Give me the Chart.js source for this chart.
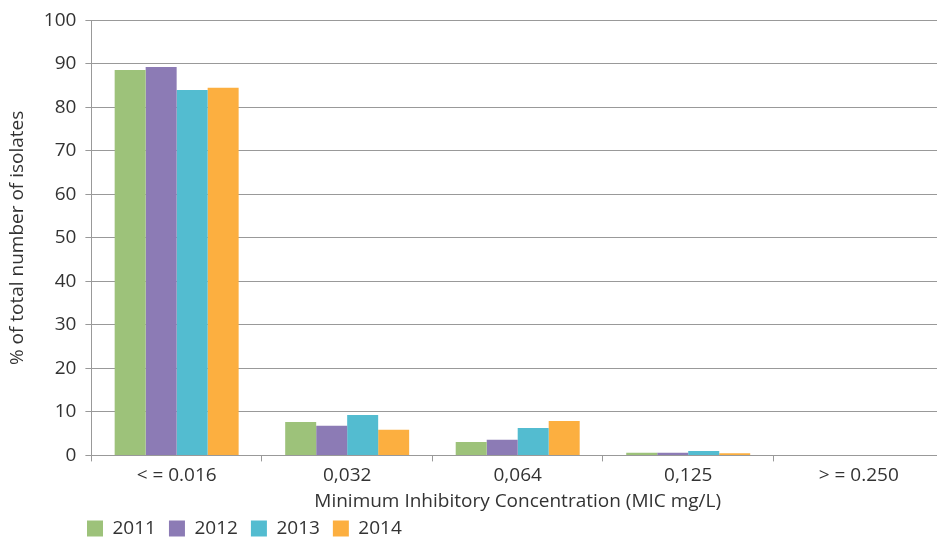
<!DOCTYPE html>
<html>
<head>
<meta charset="utf-8">
<script src="https://cdn.jsdelivr.net/npm/chart.js@4/dist/chart.umd.min.js"></script>
<style>
html,body{margin:0;padding:0;background:#fff;overflow:hidden;}
#wrap{position:relative;width:944px;height:538px;}
</style>
</head>
<body>
<div id="wrap"><canvas id="c"></canvas></div>
<script>
const categories = ["< = 0.016", "0,032", "0,064", "0,125", "> = 0.250"];
const seriesNames = ["2011", "2012", "2013", "2014"];
const values2011 = [88.6, 7.7, 3.1, 0.6, 0];
const values2012 = [89.3, 6.8, 3.6, 0.6, 0];
const values2013 = [84.0, 9.3, 6.3, 1.0, 0];
const values2014 = [84.5, 5.9, 7.9, 0.5, 0];
const colors = ["#9dc27a", "#8c7bb5", "#53bcd0", "#fcaf40"];

const FONT = "'Open Sans', sans-serif";
const TXT = "#333333";
const FS = 19;

const legendShift = {
  id: 'legendShift',
  afterLayout(chart) {
    const lg = chart.legend;
    if (lg) {
      const dx = 74 - lg.left; lg.left += dx; lg.right += dx;
      lg.top = 506; lg.bottom = 538; lg.height = lg.bottom - lg.top;
    }
  }
};

new Chart(document.getElementById('c'), {
  type: 'bar',
  data: {
    labels: categories,
    datasets: [values2011, values2012, values2013, values2014].map((v, i) => ({
      label: seriesNames[i],
      data: v,
      backgroundColor: colors[i],
      borderWidth: 0,
      barPercentage: 1.0,
      categoryPercentage: 0.727
    }))
  },
  options: {
    responsive: true,
    maintainAspectRatio: false,
    animation: false,
    layout: { padding: { top: 10, left: 6, right: 0, bottom: 0 } },
    plugins: {
      legend: {
        position: 'bottom',
        align: 'start',
        maxHeight: 25,
        labels: {
          boxWidth: 16, boxHeight: 16, padding: 13,
          color: TXT, font: { family: FONT, size: FS }
        }
      },
      tooltip: { enabled: false }
    },
    scales: {
      x: {
        grid: { offset: true, drawOnChartArea: false, drawTicks: true, tickLength: 6, color: '#999' },
        border: { color: '#999', width: 1 },
        ticks: { color: TXT, font: { family: FONT, size: FS }, padding: 3 },
        title: { display: true, text: 'Minimum Inhibitory Concentration (MIC mg/L)', color: TXT, font: { family: FONT, size: FS }, padding: { top: 0, bottom: 0 } }
      },
      y: {
        min: 0, max: 100,
        grid: { color: '#999', tickLength: 6, lineWidth: 1 },
        border: { color: '#999', width: 1 },
        ticks: { stepSize: 10, color: TXT, font: { family: FONT, size: FS }, padding: 9 },
        title: { display: true, text: '% of total number of isolates', color: TXT, font: { family: FONT, size: FS }, padding: { top: 0, bottom: 6 } }
      }
    }
  },
  plugins: [legendShift]
});
</script>
</body>
</html>
